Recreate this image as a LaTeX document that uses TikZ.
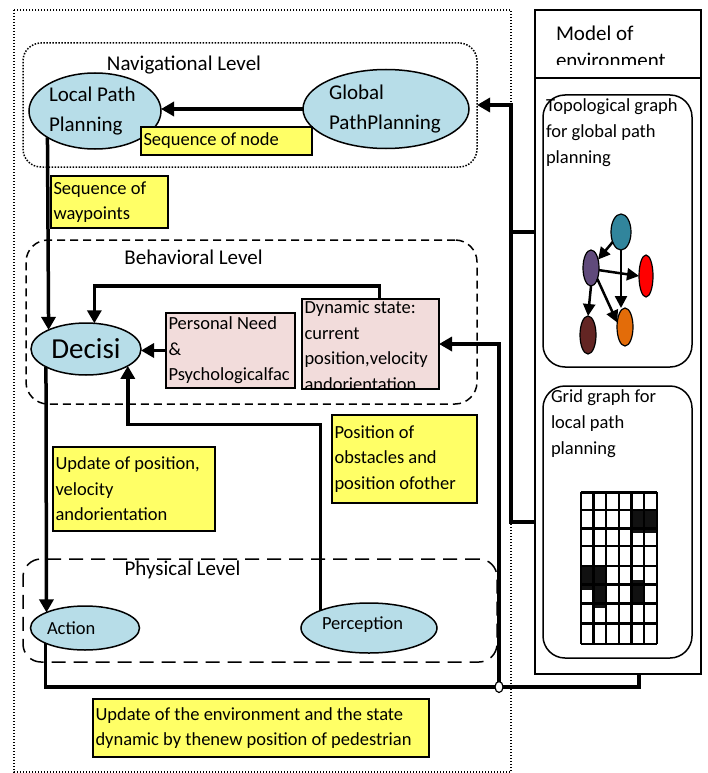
\documentclass[tikz,border=0pt]{standalone}
\usepackage{fontspec}
\setmainfont{Carlito}
\usetikzlibrary{arrows.meta,shapes.geometric,calc}
\definecolor{ellblue}{HTML}{B7DDE8}
\definecolor{pinkfill}{HTML}{F2DCDB}
\definecolor{yelfill}{HTML}{FFFF66}
\definecolor{tealc}{HTML}{31859C}
\definecolor{purplec}{HTML}{604A7B}
\definecolor{darkredc}{HTML}{632523}
\definecolor{orangec}{HTML}{E36C09}
\definecolor{gridblack}{HTML}{111111}
\newcommand{\dgBody}{\fontsize{18.5}{25.5}\selectfont}
\newcommand{\dgBig}{\fontsize{21}{27}\selectfont}
\begin{document}
\begin{tikzpicture}[x=1pt,y=-1pt,
  every node/.style={inner sep=0pt,outer sep=0pt,execute at begin node={\spaceskip=0pt\xspaceskip=0pt\relax}},
  lvl/.style={font=\dgBig, anchor=base},
  ell/.style={ellipse, draw=black, line width=1.5pt, fill=ellblue},
  ybox/.style={draw=black, line width=1.5pt, fill=yelfill, anchor=north west, align=left, font=\dgBody, inner xsep=2.5pt},
  pbox/.style={draw=black, line width=1.5pt, fill=pinkfill, anchor=north west},
  conn/.style={line width=3.5pt},
  arr/.style={conn, -{Triangle[length=13pt,width=14pt]}},
  garr/.style={line width=2.5pt, -{Triangle[length=12pt,width=12pt]}},
  gnode/.style={ellipse, draw=black, line width=1.2pt},
  lvlbox/.style={draw=black, line width=1.5pt, anchor=north west},
  frame/.style={draw=black, line width=1.5pt, anchor=north west},
  gline/.style={line width=2.4pt},
]
\useasboundingbox (0,0) rectangle (707,773);
\fill[white] (0,0) rectangle (707,773);

% outer dotted frame
\draw[line width=1.2pt, dash pattern=on 1.2pt off 1.8pt] (14,10) rectangle (511,772);

% level boxes
\node[lvlbox, dash pattern=on 1.5pt off 1.5pt, rounded corners=18pt, minimum width=454, minimum height=124] (nav) at (23,43) {};
\node[lvlbox, dash pattern=on 8pt off 5pt, rounded corners=22pt, minimum width=451, minimum height=164] (beh) at (26,240) {};
\node[lvlbox, dash pattern=on 14pt off 8pt, rounded corners=18pt, minimum width=474, minimum height=103] (phys) at (23,559) {};
\node[lvl] (navlbl) at (184,71) {Navigational Level};
\node[lvl] (behlbl) at (193.5,264) {Behavioral Level};
\node[lvl] (physlbl) at (182.5,575) {Physical Level};

% ellipses
\node[ell, minimum width=132, minimum height=76, text width=92, align=left, font=\fontsize{21}{30}\selectfont] (lpp) at (95,111) {Local Path\\Planning};
\node[ell, minimum width=166, minimum height=79, text width=114, align=left, font=\fontsize{21}{30}\selectfont] (gpp) at (386,109) {Global\\PathPlanning};
\node[ell, minimum width=110, minimum height=52, font=\fontsize{29}{32}\selectfont] (dec) at (86,349) {Decisi};
\node[ell, minimum width=109, minimum height=44, text width=76, align=left, font=\dgBody] (act) at (85,628) {Action};
\node[ell, minimum width=136, minimum height=50, text width=94, align=left, font=\dgBody, text depth=9pt] (perc) at (369,628) {Perception};

% yellow boxes
\node[ybox, text width=166, minimum height=28] (seqnode) at (141,127) {Sequence of node};
\node[ybox, text width=112, minimum height=52] (seqwp) at (51,176) {Sequence of\\waypoints};
\node[ybox, text width=157, minimum height=84] (updpos) at (53,447) {Update of position,\\velocity\\andorientation};
\node[ybox, text width=140, minimum height=88] (obst) at (332,415) {Position of\\obstacles and\\position ofother};
\node[ybox, text width=331, minimum height=58] (updenv) at (93,699) {Update of the environment and the state\\dynamic by thenew position of pedestrian};

% pink boxes
\node[pbox, text width=124, inner xsep=2.5pt, minimum height=75, align=left, font=\dgBody] (pers) at (166,313) {Personal Need\\\&\\Psychologicalfac};
\node[pbox, minimum width=137, minimum height=90] (dyn) at (302,299) {};
\begin{scope}
\clip ($(dyn.north west)+(1,1)$) rectangle ($(dyn.south east)+(-1,-1)$);
\node[anchor=north west, align=left, font=\dgBody] (dyntext) at ($(dyn.north west)+(2.5,2)$) {Dynamic state:\\current\\position,velocity\\andorientation};
\end{scope}

% model of environment
\node[frame, minimum width=166, minimum height=664] (model) at (535,10) {};
\draw[line width=1.5pt] ($(model.north west)+(0,68)$) -- ($(model.north east)+(0,68)$);
\begin{scope}
\clip ($(model.north west)+(1,1)$) rectangle ($(model.north east)+(-1,54.5)$);
\node[anchor=north west, align=left, font=\fontsize{21}{27.5}\selectfont] (modeltext) at (556,25.5) {Model of\\environment};
\end{scope}
\node[frame, rounded corners=22pt, minimum width=149, minimum height=272] (topo) at (543,95) {};
\node[anchor=north west, align=left, font=\fontsize{18.5}{26}\selectfont] (topotext) at (546,99) {Topological graph\\for global path\\planning};
\node[frame, rounded corners=22pt, minimum width=149, minimum height=272] (gridbox) at (543,386) {};
\node[anchor=north west, align=left, font=\fontsize{18.5}{26}\selectfont] (gridtext) at (551,389.5) {Grid graph for\\local path\\planning};

% topological graph
\node[gnode, fill=tealc, minimum width=20, minimum height=36] (g1) at (621,232) {};
\node[gnode, fill=purplec, minimum width=16, minimum height=36] (g2) at (591,268) {};
\node[gnode, fill=red, minimum width=14, minimum height=42] (g3) at (646,276) {};
\node[gnode, fill=darkredc, minimum width=16, minimum height=38] (g4) at (588,335) {};
\node[gnode, fill=orangec, minimum width=16, minimum height=38] (g5) at (625,327) {};
\draw[garr] (g1) -- (g2);
\draw[garr] (g1.south) -- (g1.south |- g5.north);
\draw[garr] (g2.-15) -- (g3.west);
\draw[garr] (g2.south) -- (g4.north);
\draw[garr] (g2.-60) -- (g5.150);

% grid graph
\fill[gridblack] (631.3,510) rectangle (656.7,533);
\fill[gridblack] (580.7,566) rectangle (606,590);
\fill[gridblack] (593.3,590) rectangle (606,608);
\fill[gridblack] (631.3,580) rectangle (644,603);
\foreach \gx in {580.7,593.3,606,618.7,631.3,644,656.7}
  \draw[gline] (\gx,492.3) -- (\gx,644);
\foreach \gy in {492.3,510,528.3,546,566,584.3,603.3,623.3,644}
  \draw[gline] (580.7,\gy) -- (656.7,\gy);

% connectors
\draw[arr] (gpp.west) -- (gpp.west -| lpp.east);
\draw[arr] (lpp.209.6) -- (dec.153.6);
\draw[arr] ($(dyn.north)+(9,0)$) -- ++(0,-13) -| (dec.72.7);
\draw[arr] (pers.west) -- (pers.west -| dec.east);
\draw[arr] (perc.160.6) -- ++(0,-186) -| (dec.338.2);
\draw[arr] (dec.204) -- (act.158.5);
\draw[conn] (act.201.5) -- ++(0,44) -| ($(model.south)+(21,0)$);
\node[ellipse, draw=black, fill=white, line width=1.2pt, minimum width=8, minimum height=11] (junc) at (499,687) {};
\draw[arr] (junc.north) |- (dyn.east);
\draw[conn] ($(model.north west)+(0,222)$) -- ++(-24,0);
\draw[arr] ($(model.north west)+(0,512)$) -- ++(-24,0) |- (nav.east);
\end{tikzpicture}
\end{document}
